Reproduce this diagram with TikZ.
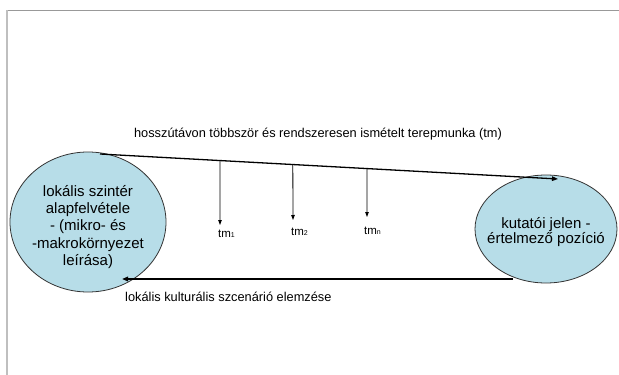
\documentclass[tikz,border=0pt]{standalone}
\usepackage{fontspec}
\setmainfont{Liberation Sans}
\usetikzlibrary{shapes.geometric,arrows.meta}
\definecolor{bubble}{HTML}{B7DDE8}
\tikzset{
  bubblenode/.style={ellipse,draw=black!80,line width=0.8pt,fill=bubble,inner sep=0pt},
  bubbletext/.style={inner sep=0pt,align=center,font=\fontsize{15}{17.2}\selectfont},
  arr/.style={-{Triangle[length=6pt,width=4.5pt]},line width=1.3pt},
  varr/.style={-{Triangle[length=5pt,width=3.5pt]},line width=0.8pt},
  lbl/.style={inner sep=0pt,font=\fontsize{12.8}{14}\selectfont},
  tmlbl/.style={inner sep=0pt,font=\fontsize{11.5}{13}\selectfont},
  frameline/.style={draw=black!40,line width=1pt}
}
\newcommand{\tmsub}[1]{tm\raisebox{-0.5pt}{\fontsize{7}{8}\selectfont #1}}
\begin{document}
\begin{tikzpicture}[x=1pt,y=-1pt]
\useasboundingbox (0,0) rectangle (619,375);
\draw[frameline] (6,10) -- (619,10);
\draw[draw=black!25,line width=1.5pt] (7,10) -- (7,375);
\node[bubblenode,minimum width=156pt,minimum height=140pt] (L) at (88,222) {};
\node[bubbletext] (Lt) at ([yshift=-5pt]L.center)
  {lokális szintér\\alapfelvétele\\- (mikro- és\\-makrokörnyezet\\leírása)};
\node[bubblenode,minimum width=142pt,minimum height=108pt] (R) at (546,229) {};
\node[bubbletext,font=\fontsize{15}{15.5}\selectfont] (Rt) at ([yshift=-3pt]R.center)
  {kutatói jelen -\\értelmező pozíció};
\coordinate (a1) at (100,154);
\coordinate (a2) at (558,179);
\draw[arr] (a1) -- (a2)
  coordinate[pos=0.262] (v1)
  coordinate[pos=0.421] (v2)
  coordinate[pos=0.583] (v3);
\node[lbl,anchor=base] (top) at (318,137) {hosszútávon többször és rendszeresen ismételt terepmunka (tm)};
\coordinate (b1) at (513,279);
\coordinate (b2) at (122,279);
\draw[arr,line width=1.6pt] (b1) -- (b2);
\node[lbl,anchor=base west] (bot) at (125,301) {lokális kulturális szcenárió elemzése};
\node[tmlbl,anchor=base west] (t1) at (218,237) {\tmsub{1}};
\node[tmlbl,anchor=base west] (t2) at (291,235) {\tmsub{2}};
\node[tmlbl,anchor=base west] (t3) at (364,234) {\tmsub{n}};
\coordinate (e1) at (220,225);
\coordinate (e2) at (293,220);
\coordinate (e3) at (367,217);
\draw[varr] (v1) -- (e1);
\draw[varr] (v2) -- (e2);
\draw[varr] (v3) -- (e3);
\end{tikzpicture}
\end{document}
